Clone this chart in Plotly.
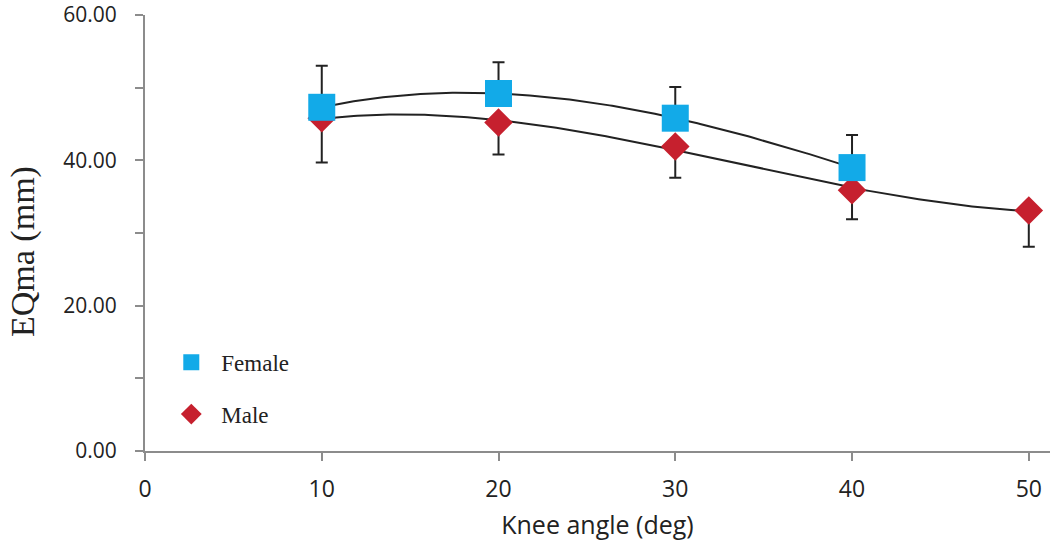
import numpy as np
import plotly.graph_objects as go

# Data
female_x = [10, 20, 30, 40]
female_y = [47.3, 49.2, 45.8, 39.0]
female_err = [5.7, 4.3, 4.3, 4.5]

male_x = [10, 20, 30, 40, 50]
male_y = [45.8, 45.2, 41.9, 35.9, 33.1]
male_err = [6.1, 4.4, 4.3, 4.0, 5.0]

x_ticks = [0, 10, 20, 30, 40, 50]
y_ticks = [0, 10, 20, 30, 40, 50, 60]
y_ticktext = ["0.00", "", "20.00", "", "40.00", "", "60.00"]

FEMALE_COLOR = "#12AAE8"
MALE_COLOR = "#C6202E"

# Polynomial trendlines (order 3) from the data
fc = np.polyfit(female_x, female_y, 3)
mc = np.polyfit(male_x, male_y, 3)
fx = np.linspace(min(female_x), max(female_x), 200)
mx = np.linspace(min(male_x), max(male_x), 200)

fig = go.Figure()
fig.add_trace(go.Scatter(x=mx, y=np.polyval(mc, mx), mode="lines", cliponaxis=False,
                         line=dict(color="#222222", width=2), showlegend=False, hoverinfo="skip"))
fig.add_trace(go.Scatter(x=fx, y=np.polyval(fc, fx), mode="lines", cliponaxis=False,
                         line=dict(color="#222222", width=2), showlegend=False, hoverinfo="skip"))

fig.add_trace(go.Scatter(
    x=male_x, y=male_y, mode="markers", name="Male", legendrank=2, legendgroup="m",
    cliponaxis=False,
    marker=dict(symbol="diamond", size=22, color=MALE_COLOR),
    error_y=dict(type="data", symmetric=False, array=[0]*len(male_err), arrayminus=male_err,
                 color="#222222", thickness=2, width=6),
))
fig.add_trace(go.Scatter(
    x=female_x, y=female_y, mode="markers", name="Female", legendrank=1, legendgroup="f",
    cliponaxis=False,
    marker=dict(symbol="square", size=27, color=FEMALE_COLOR),
    error_y=dict(type="data", symmetric=False, array=female_err, arrayminus=[0]*len(female_err),
                 color="#222222", thickness=2, width=6),
))

axis_color = "#8C8C8C"
plot_h = 544 - 15 - 93
fig.update_layout(
    width=1050, height=544,
    margin=dict(l=145, r=0, t=15, b=93, autoexpand=False),
    paper_bgcolor="white", plot_bgcolor="white",
    showlegend=True,
    legend=dict(x=0.018, y=0.253, xanchor="left", yanchor="top",
                font=dict(family="Liberation Serif", size=23, color="#222222"),
                tracegroupgap=19, bgcolor="rgba(0,0,0,0)", itemsizing="trace",
                itemwidth=50),
    xaxis=dict(range=[0, 51.2], tickvals=x_ticks, showgrid=False, zeroline=False,
               showline=True, linecolor=axis_color, linewidth=2, automargin=False,
               ticks="outside", ticklen=8, tickwidth=2, tickcolor=axis_color,
               ticklabelstandoff=8, ticklabeloverflow="allow",
               tickfont=dict(family="Open Sans", size=23, color="#222222"),
               title=dict(text="Knee angle (deg)", standoff=14,
                          font=dict(family="Open Sans", size=25, color="#222222"))),
    yaxis=dict(range=[0, 60], tickvals=y_ticks, ticktext=y_ticktext, showgrid=False,
               zeroline=False, showline=True, linecolor=axis_color, linewidth=2, automargin=False,
               ticks="outside", ticklen=8, tickwidth=2, tickcolor=axis_color,
               ticklabelstandoff=14, ticklabeloverflow="allow",
               tickfont=dict(family="Open Sans", size=21, color="#222222")),
    annotations=[dict(text="EQma (mm)", textangle=-90, xref="paper", yref="paper",
                      x=-(145 - 23) / 905, y=(451 - 252) / plot_h, showarrow=False,
                      xanchor="center", yanchor="middle",
                      font=dict(family="Liberation Serif", size=34, color="#222222"))],
)

fig.write_html("out.html", config={"displayModeBar": False},
               post_script="document.body.style.margin='0px';")
